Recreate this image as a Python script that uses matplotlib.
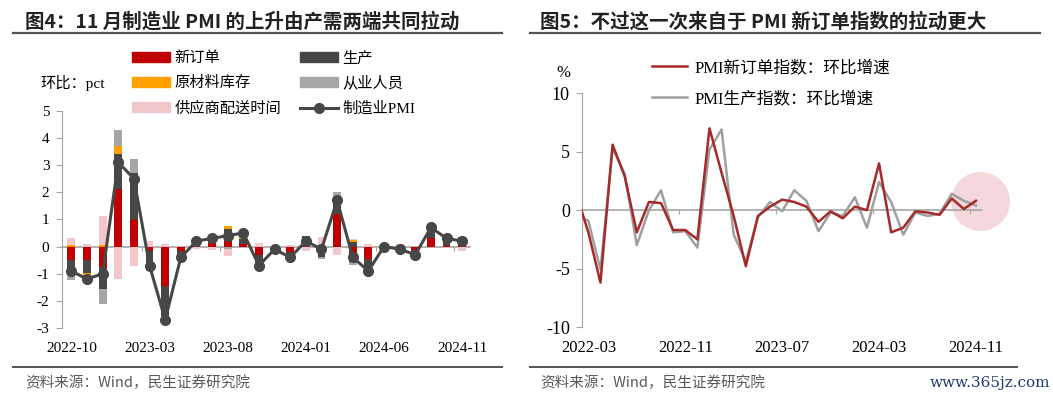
import numpy as np
import pandas as pd
import matplotlib.pyplot as plt
from matplotlib.patches import Patch
from matplotlib.lines import Line2D

plt.rcParams['font.family'] = ['Liberation Serif', 'Noto Sans CJK SC']
plt.rcParams['axes.unicode_minus'] = False

# 图4：各分项对制造业PMI环比的拉动（pct），2022-10 ~ 2024-11
months_l = pd.date_range('2022-10', '2024-11', freq='MS').strftime('%Y-%m').tolist()
new_orders = [-0.51, -0.51, -0.75, 2.10, 0.96, -0.15, -1.44, -0.15, 0.09, 0.27, 0.21, 0.09, -0.30,
              -0.03, -0.21, 0.09, 0.00, 1.20, -0.57, -0.45, -0.03, -0.06, -0.12, 0.30, 0.03, 0.24]
production = [-0.48, -0.45, -0.80, 1.30, 1.73, -0.53, -1.10, -0.15, 0.18, -0.03, 0.43, 0.20, -0.45,
              -0.05, -0.13, 0.28, -0.38, 0.60, 0.18, -0.53, -0.05, -0.13, -0.08, 0.35, 0.20, 0.10]
inventory = [0.04, -0.12, 0.07, 0.30, 0.00, 0.00, -0.10, -0.05, 0.00, 0.05, 0.12, 0.05, -0.03,
             0.00, -0.05, 0.02, 0.05, 0.00, 0.05, -0.02, 0.02, 0.00, -0.03, 0.02, 0.05, 0.00]
employment = [-0.24, -0.22, -0.58, 0.60, 0.52, -0.22, -0.16, -0.05, 0.02, 0.09, -0.10, 0.06, -0.04,
              -0.04, -0.06, 0.00, -0.08, 0.20, -0.10, -0.01, 0.00, 0.00, -0.07, 0.05, 0.08, 0.02]
supplier = [0.28, 0.10, 1.06, -1.20, -0.70, 0.20, 0.10, 0.00, -0.08, -0.08, -0.25, 0.10, 0.12,
            0.02, 0.05, -0.18, 0.30, -0.30, 0.05, 0.10, 0.06, 0.08, 0.00, -0.02, -0.06, -0.16]
pmi_chg = [-0.9, -1.2, -1.0, 3.1, 2.5, -0.7, -2.7, -0.4, 0.2, 0.3, 0.4, 0.5, -0.7,
           -0.1, -0.4, 0.2, -0.1, 1.7, -0.4, -0.9, 0.0, -0.1, -0.3, 0.7, 0.3, 0.2]

# 图5：PMI新订单/生产指数环比变化，2022-02 ~ 2024-11（首月在坐标轴外被截断）
months_r = pd.date_range('2022-02', '2024-11', freq='MS').strftime('%Y-%m').tolist()
no_idx_chg = [1.4, -1.9, -6.2, 5.6, 2.9, -1.9, 0.7, 0.6, -1.7, -1.7, -2.5,
              7.0, 3.2, -0.5, -4.8, -0.5, 0.3, 0.9, 0.7, 0.3, -1.0, -0.1, -0.7,
              0.3, 0.0, 4.0, -1.9, -1.5, -0.1, -0.2, -0.4, 1.0, 0.1, 0.8]
prod_idx_chg = [-0.5, -0.9, -5.1, 5.3, 3.1, -3.0, 0.0, 1.7, -1.9, -1.8, -3.2,
                5.2, 6.9, -2.1, -4.4, -0.6, 0.7, -0.1, 1.7, 0.8, -1.8, -0.2, -0.5,
                1.1, -1.5, 2.4, 0.7, -2.1, -0.2, -0.5, -0.3, 1.4, 0.8, 0.4]

W, H = 1053, 399
fig = plt.figure(figsize=(W / 100, H / 100), dpi=100)
axL = fig.add_axes([62 / W, 1 - 328 / H, (470 - 62) / W, (328 - 110.7) / H])
axR = fig.add_axes([582.3 / W, 1 - 327 / H, (982 - 582.3) / W, (327 - 93.3) / H])

axis_gray = '#a6a6a6'

# ---- 左图：堆积柱 + 折线
x = np.arange(len(months_l))
comps = [('新订单', new_orders, '#c00000'),
         ('生产', production, '#474747'),
         ('原材料库存', inventory, '#ffa000'),
         ('从业人员', employment, '#a6a6a6'),
         ('供应商配送时间', supplier, '#f1c7cb')]
pos = np.zeros(len(x))
neg = np.zeros(len(x))
for name, vals, c in comps:
    v = np.array(vals)
    bottom = np.where(v >= 0, pos, neg)
    axL.bar(x, v, 0.5, bottom=bottom, color=c, zorder=2)
    pos += np.clip(v, 0, None)
    neg += np.clip(v, None, 0)
axL.plot(x, pmi_chg, color='#474747', lw=2.2, marker='o', ms=7, zorder=4)

axL.set_xlim(-0.6, 25.5)
axL.set_ylim(-3, 5)
axL.set_yticks(range(-3, 6))

# ---- 右图：折线
xr = np.arange(len(months_r))
ctr_y = np.mean(no_idx_chg[-3:] + prod_idx_chg[-3:])
axR.scatter([xr[-1] + 0.3], [ctr_y], s=1800, color='#f4d8db', linewidths=0, zorder=1, clip_on=False)
axR.plot(xr, no_idx_chg, color='#a52a2a', lw=1.8, zorder=3, label='PMI新订单指数：环比增速')
axR.plot(xr, prod_idx_chg, color='#a0a0a0', lw=1.8, zorder=2, label='PMI生产指数：环比增速')
axR.set_xlim(0.5, 33.5)
axR.set_ylim(-10, 10)
axR.set_yticks([-10, -5, 0, 5, 10])

for ax, step, first, xs, labels, fs, yfs, pad in [(axL, 5, 0, x, months_l, 11, 11, 10),
                                                  (axR, 8, 1, xr, months_r, 12, 13, 9)]:
    for s in ['top', 'right']:
        ax.spines[s].set_visible(False)
    ax.spines['left'].set_color(axis_gray)
    ax.spines['bottom'].set_position(('data', 0))
    ax.spines['bottom'].set_color(axis_gray)
    ax.spines['bottom'].set_linewidth(1.2)
    ax.spines['bottom'].set_zorder(1)
    ax.set_xticks(np.arange(first + step - 0.5, len(xs) - 1, step))
    ax.set_xticklabels([])
    ax.tick_params(axis='x', direction='out', length=3, color=axis_gray)
    ax.tick_params(axis='y', direction='out', length=4, color=axis_gray, labelsize=yfs, pad=5)
    idx = list(range(first, len(xs), step))
    sec = ax.secondary_xaxis(0.0)
    sec.spines['bottom'].set_visible(False)
    sec.set_xticks(xs[idx], [labels[i] for i in idx])
    sec.tick_params(length=0, pad=pad, labelsize=fs)

# 图例
hl = [Patch(color=c) for _, _, c in comps]
hl.append(Line2D([], [], color='#474747', lw=2.2, marker='o', ms=7))
names = [n for n, _, _ in comps] + ['制造业PMI']
order = [0, 2, 4, 1, 3, 5]
fig.legend([hl[i] for i in order], [names[i] for i in order], ncol=2, loc='upper left',
           bbox_to_anchor=(132 / W, 1 - 51 / H), frameon=False, fontsize=11,
           handlelength=2.5, handleheight=0.6, labelspacing=0.7, columnspacing=1.2,
           handletextpad=0.3, borderpad=0, borderaxespad=0)
fig.legend(*axR.get_legend_handles_labels(), loc='upper left', bbox_to_anchor=(652 / W, 1 - 60 / H),
           frameon=False, fontsize=12, handlelength=2.1, labelspacing=0.92,
           handletextpad=0.45, borderpad=0, borderaxespad=0)

fig.text(40 / W, 1 - 83 / H, '环比：pct', fontsize=11, va='center')
fig.text(563 / W, 1 - 73 / H, '%', fontsize=12, va='center', ha='center')

# 标题、来源
sans = ['Noto Sans CJK SC', 'DejaVu Sans']
fig.text(25 / W, 1 - 22 / H, '图4：11 月制造业 PMI 的上升由产需两端共同拉动', fontsize=14,
         fontweight='bold', family=sans, va='center', color='#222222')
fig.text(540 / W, 1 - 22 / H, '图5：不过这一次来自于 PMI 新订单指数的拉动更大', fontsize=14,
         fontweight='bold', family=sans, va='center', color='#222222')
for x0, x1 in [(13, 502), (530, 1040)]:
    fig.add_artist(Line2D([x0 / W, x1 / W], [1 - 33 / H] * 2, color='#555555', lw=1.6))
for x0, x1 in [(13, 502), (530, 1017)]:
    fig.add_artist(Line2D([x0 / W, x1 / W], [1 - 367 / H] * 2, color='#555555', lw=1.4))
fig.text(25 / W, 1 - 383 / H, '资料来源：Wind，民生证券研究院', fontsize=10.5, family=sans,
         va='center', color='#595959')
fig.text(540 / W, 1 - 383 / H, '资料来源：Wind，民生证券研究院', fontsize=10.5, family=sans,
         va='center', color='#595959')
fig.text(930 / W, 1 - 383 / H, 'www.365jz.com', fontsize=11, family='DejaVu Serif',
         va='center', color='#1f3a6e')

plt.savefig('out.png', dpi=100)
